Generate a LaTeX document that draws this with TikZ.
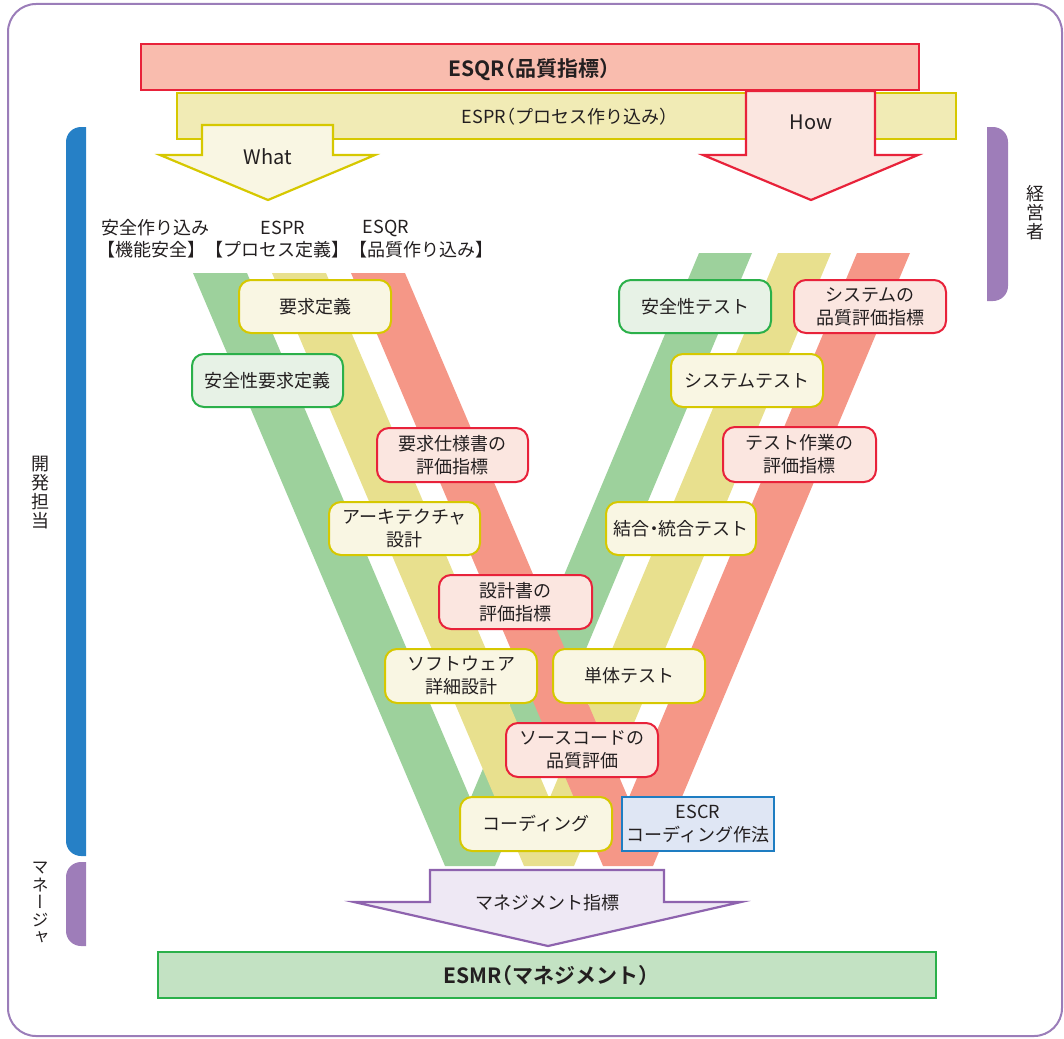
\documentclass[tikz,border=0pt]{standalone}
\usepackage{fontspec}
\setmainfont{Noto Sans CJK JP}[BoldFont={Noto Sans CJK JP Bold}]
\newfontfamily\vfont{Noto Sans CJK JP}[RawFeature=+vert]
\newcommand\fsz[2]{\fontsize{#1}{#2}\selectfont}
% half-width forms for brackets and the middle dot
\newcommand\hw[1]{{\addfontfeature{RawFeature=+halt}#1}}

\definecolor{frameC}{HTML}{9B7DB9}
\definecolor{redL}{HTML}{E8223A}
\definecolor{redF}{HTML}{F9BCAE}
\definecolor{redBox}{HTML}{FBE6E0}
\definecolor{yelL}{HTML}{D6C800}
\definecolor{yelF}{HTML}{F1EBB5}
\definecolor{yelBox}{HTML}{F9F6E3}
\definecolor{grnL}{HTML}{2BB04A}
\definecolor{grnBox}{HTML}{E7F2E6}
\definecolor{grnBar}{HTML}{C3E2C3}
\definecolor{bandG}{HTML}{9DD19C}
\definecolor{bandY}{HTML}{E8E08E}
\definecolor{bandR}{HTML}{F59787}
\definecolor{bluL}{HTML}{1E7DC2}
\definecolor{bluF}{HTML}{DFE6F4}
\definecolor{bluBar}{HTML}{2680C6}
\definecolor{purBar}{HTML}{9E7DB9}
\definecolor{purL}{HTML}{8E63AE}
\definecolor{purF}{HTML}{EEE8F4}
\definecolor{txt}{HTML}{231F20}

\begin{document}
\begin{tikzpicture}[x=1pt,y=-1pt,
  every node/.style={text=txt},
  box/.style={rounded corners=12pt, line width=2pt, align=center, inner sep=0pt,
    minimum width=152pt, minimum height=53pt, font=\fsz{18}{23}},
  ybox/.style={box, draw=yelL, fill=yelBox},
  gbox/.style={box, draw=grnL, fill=grnBox},
  rbox/.style={box, draw=redL, fill=redBox},
  bbox/.style={box, sharp corners, draw=bluL, fill=bluF},
  lab/.style={inner sep=0pt, align=center, font=\fsz{18}{22}},
  vlab/.style={inner sep=0pt, align=center},
]
\useasboundingbox (0,0) rectangle (1064,1038);

% outer frame
\draw[frameC, line width=2pt, rounded corners=28pt] (8,4) rectangle (1062,1036);

% top bars
\draw[redL, fill=redF, line width=2pt] (141,44) rectangle (919,90);
\node[lab, font=\fsz{21}{24}\bfseries] (esqr) at (529,70) {ESQR\hw{（}品質指標\hw{）}};
\draw[yelL, fill=yelF, line width=2pt] (177,93) rectangle (956,139);
\node[lab] (espr) at (565,117) {ESPR\hw{（}プロセス作り込み\hw{）}};

% What / How arrows
\draw[yelL, fill=yelBox, line width=2.2pt]
  (202,125) -- (333,125) -- (333,155) -- (375,155) -- (268,200) -- (160,155) -- (202,155) -- cycle;
\node[lab, font=\fsz{20}{22}] (what) at (268,157) {What};
\draw[redL, fill=redBox, line width=2.2pt]
  (746,91) -- (875,91) -- (875,155) -- (918,155) -- (811,200) -- (703,155) -- (746,155) -- cycle;
\node[lab, font=\fsz{20}{22}] (how) at (811,122) {How};

% side bars
\begin{scope}
  \clip (60,100) rectangle (86,980);
  \fill[bluBar, rounded corners=15pt] (66,127) rectangle (110,856);
  \fill[purBar, rounded corners=15pt] (66,862) rectangle (110,946);
\end{scope}
\begin{scope}
  \clip (987,100) rectangle (1020,330);
  \fill[purBar, rounded corners=15pt] (960,127) rectangle (1008,301);
\end{scope}
\node[vlab, font=\vfont\fsz{18}{19}] (dev) at (40,493) {開\\発\\担\\当};
\node[vlab, font=\vfont\fsz{17}{17.5}] (mgr) at (40,903) {マ\\ネ\\ー\\ジ\\ャ};
\node[vlab, font=\vfont\fsz{18}{19}] (exe) at (1035,213) {経\\営\\者};

% column headings
\node[lab] (h1) at (155,228) {安全作り込み};
\node[lab] (h2) at (283,228) {ESPR};
\node[lab] (h3) at (386,228) {ESQR};
\node[lab] (h4) at (295.5,250) {【機能安全】【プロセス定義】【品質作り込み】};

% V bands
\fill[bandG] (193,273) -- (247,273) -- (470.4,798.6) -- (699,253) -- (752,253) -- (495,866) -- (445,866) -- cycle;
\fill[bandY] (272,273) -- (326,273) -- (549.4,798.6) -- (778,253) -- (831,253) -- (574,866) -- (524,866) -- cycle;
\fill[bandR] (351,273) -- (405,273) -- (628.4,798.6) -- (857,253) -- (910,253) -- (653,866) -- (603,866) -- cycle;

% process boxes, left arm
\node[ybox] (req) at (315,306.5) {要求定義};
\node[gbox, minimum width=151pt] (sreq) at (267.5,380.5) {安全性要求定義};
\node[rbox, minimum width=151pt, minimum height=54pt] (reqm) at (452.5,455) {要求仕様書の\\評価指標};
\node[ybox, minimum width=151pt] (arch) at (404.5,528.5) {アーキテクチャ\\設計};
\node[rbox, minimum width=153pt, minimum height=54pt] (desm) at (515.5,602) {設計書の\\評価指標};
\node[ybox, minimum height=54pt] (det) at (461,676) {ソフトウェア\\詳細設計};
\node[rbox, minimum height=54pt] (srcm) at (582,750) {ソースコードの\\品質評価};
\node[ybox, minimum height=54pt] (code) at (536,824) {コーディング};
\node[bbox, minimum height=54pt] (escr) at (698,824) {ESCR\\コーディング作法};

% process boxes, right arm
\node[ybox, minimum height=54pt] (unit) at (629,676) {単体テスト};
\node[ybox, minimum width=150pt] (integ) at (681,528.5) {結合\hw{・}統合テスト};
\node[rbox, minimum width=153pt, minimum height=55pt] (testm) at (799.5,454.5) {テスト作業の\\評価指標};
\node[ybox] (sys) at (747,380.5) {システムテスト};
\node[gbox] (stest) at (695,306.5) {安全性テスト};
\node[rbox] (sysm) at (870,306.5) {システムの\\品質評価指標};

% management arrow and bar
\draw[purL, fill=purF, line width=2.2pt]
  (430,870) -- (664,870) -- (664,902) -- (741,902) -- (548,946) -- (354,902) -- (430,902) -- cycle;
\node[lab] (mind) at (547,903) {マネジメント指標};
\draw[grnL, fill=grnBar, line width=2pt] (158,952) rectangle (936,998);
\node[lab, font=\fsz{21}{24}\bfseries] (esmr) at (546,976) {ESMR\hw{（}マネジメント\hw{）}};
\end{tikzpicture}
\end{document}
